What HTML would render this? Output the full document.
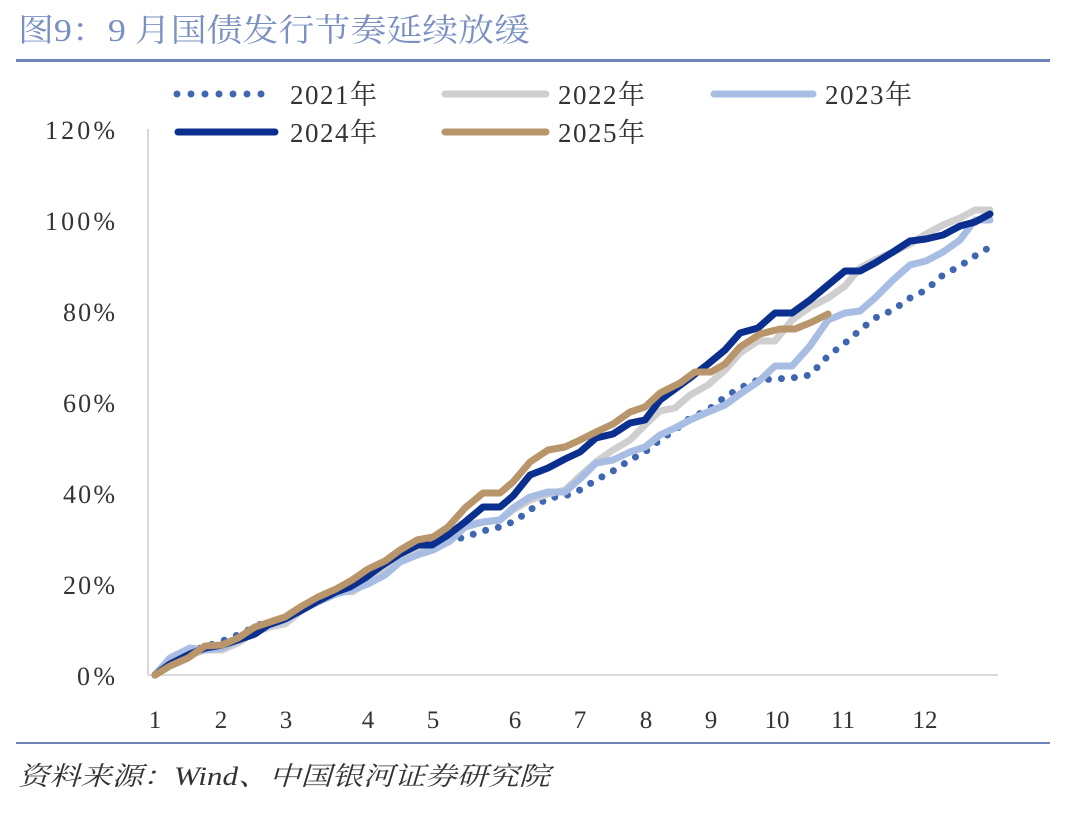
<!DOCTYPE html>
<html><head><meta charset="utf-8"><style>
body{margin:0;background:#fff;}
svg text{font-family:"Liberation Serif","Noto Serif CJK SC",serif;}
</style></head><body>
<svg width="1072" height="817" viewBox="0 0 1072 817" xmlns="http://www.w3.org/2000/svg">
<text x="18" y="41" font-size="32" fill="#7a8fc2" textLength="512" lengthAdjust="spacingAndGlyphs" font-family="Liberation Serif, Noto Serif CJK SC, serif">图9：9 月国债发行节奏延续放缓</text>
<line x1="16" y1="60.5" x2="1050" y2="60.5" stroke="#6c84b8" stroke-width="3"/>
<line x1="16" y1="743" x2="1050" y2="743" stroke="#6c84b8" stroke-width="2"/>
<text x="18" y="785" font-size="26" font-style="italic" fill="#333" textLength="532" lengthAdjust="spacingAndGlyphs" font-family="Liberation Serif, Noto Serif CJK SC, serif">资料来源：Wind、中国银河证券研究院</text>
<line x1="148" y1="129" x2="148" y2="675" stroke="#d9d9d9" stroke-width="2"/>
<line x1="148" y1="675" x2="998" y2="675" stroke="#d9d9d9" stroke-width="2"/>
<g font-size="26" fill="#333" lengthAdjust="spacingAndGlyphs">
<text x="45" y="139" textLength="70">120%</text><text x="45" y="230" textLength="70">100%</text><text x="63" y="321" textLength="52">80%</text>
<text x="63" y="412" textLength="52">60%</text><text x="63" y="503" textLength="52">40%</text><text x="63" y="594" textLength="52">20%</text><text x="77" y="685" textLength="38">0%</text>
</g>
<g font-size="25" fill="#333" text-anchor="middle">
<text x="155" y="728">1</text><text x="221" y="728">2</text><text x="286" y="728">3</text><text x="368" y="728">4</text>
<text x="433" y="728">5</text><text x="515" y="728">6</text><text x="580" y="728">7</text><text x="646" y="728">8</text>
<text x="711" y="728">9</text><text x="777" y="728">10</text><text x="843" y="728">11</text><text x="925" y="728">12</text>
</g>
<g fill="none" stroke-linejoin="round" stroke-linecap="round">
<polyline stroke="#3f66b0" stroke-width="7" stroke-dasharray="0 13" points="155,675 175,662 200,648 220,642 240,634 265,622 285,620 300,611 318,601 340,591 350,588 370,580 390,565 410,557 433,550 450,541 465,537 483,531 500,527 515,521 530,510 548,498 565,496 580,490 596,480 613,471 630,460 645,452 660,440 675,430 690,418 708,410 725,397 740,388 758,380 775,379 792,378 810,375 828,356 845,343 860,330 875,318 893,310 910,298 926,290 943,275 960,266 975,256 990,247"/>
<polyline stroke="#d0cfcf" stroke-width="7" points="155,675 170,664 190,655 205,650 222,650 238,643 255,632 270,627 285,624 300,612 318,600 336,590 352,592 368,582 385,569 400,558 417,552 433,545 450,538 465,525 483,522 500,520 513,510 530,500 548,494 565,490 580,476 596,462 613,450 630,440 645,425 660,411 675,408 690,395 708,385 725,370 740,353 758,341 775,341 792,320 810,307 828,298 845,286 860,268 875,260 893,252 910,244 926,234 943,225 960,218 975,210 990,210"/>
<polyline stroke="#a8bde3" stroke-width="7" points="155,675 170,658 190,648 205,650 222,648 238,640 255,630 270,625 285,620 300,611 318,602 336,594 352,590 368,584 385,575 400,562 417,555 433,550 450,541 465,527 483,522 500,520 513,508 530,497 548,492 565,492 580,479 596,463 613,460 630,452 645,447 660,435 675,428 690,420 708,412 725,405 740,394 758,382 775,366 792,366 810,346 828,320 845,313 860,311 875,298 893,280 910,265 926,261 943,252 960,240 975,220 990,220"/>
<polyline stroke="#0a2f8f" stroke-width="7" points="155,675 170,664 190,654 205,648 222,645 238,640 255,634 268,625 285,619 300,611 318,601 336,592 350,587 365,578 380,567 400,554 418,545 432,545 448,535 465,522 483,507 500,507 513,496 530,475 548,468 565,459 580,452 596,438 613,434 630,423 645,420 660,400 675,389 690,378 708,364 725,350 740,333 758,328 775,313 792,313 810,300 828,285 845,271 860,271 875,263 893,252 910,241 926,239 943,235 960,226 975,222 990,214"/>
<polyline stroke="#b8956a" stroke-width="7" points="155,675 170,666 188,658 205,646 222,645 238,638 255,627 270,622 285,617 302,606 318,597 336,589 352,580 368,569 385,561 400,550 417,540 433,537 448,527 465,508 483,493 500,493 513,482 530,462 548,450 565,447 580,440 596,432 613,424 630,412 645,407 660,393 680,383 695,372 711,372 725,364 740,347 760,334 780,329 795,329 812,322 828,314"/>
<line x1="177" y1="94" x2="275" y2="94" stroke="#3f66b0" stroke-width="7" stroke-dasharray="0 14"/>
<line x1="445" y1="94" x2="546" y2="94" stroke="#d0cfcf" stroke-width="7"/>
<line x1="714" y1="94" x2="813" y2="94" stroke="#a8bde3" stroke-width="7"/>
<line x1="178" y1="132" x2="275" y2="132" stroke="#0a2f8f" stroke-width="7"/>
<line x1="445" y1="132" x2="546" y2="132" stroke="#b8956a" stroke-width="7"/>
</g>
<g font-size="27" fill="#333" lengthAdjust="spacingAndGlyphs">
<text x="290" y="104" textLength="87">2021年</text><text x="558" y="104" textLength="87">2022年</text><text x="825" y="104" textLength="87">2023年</text>
<text x="290" y="142" textLength="87">2024年</text><text x="558" y="142" textLength="87">2025年</text>
</g>
</svg>
</body></html>
